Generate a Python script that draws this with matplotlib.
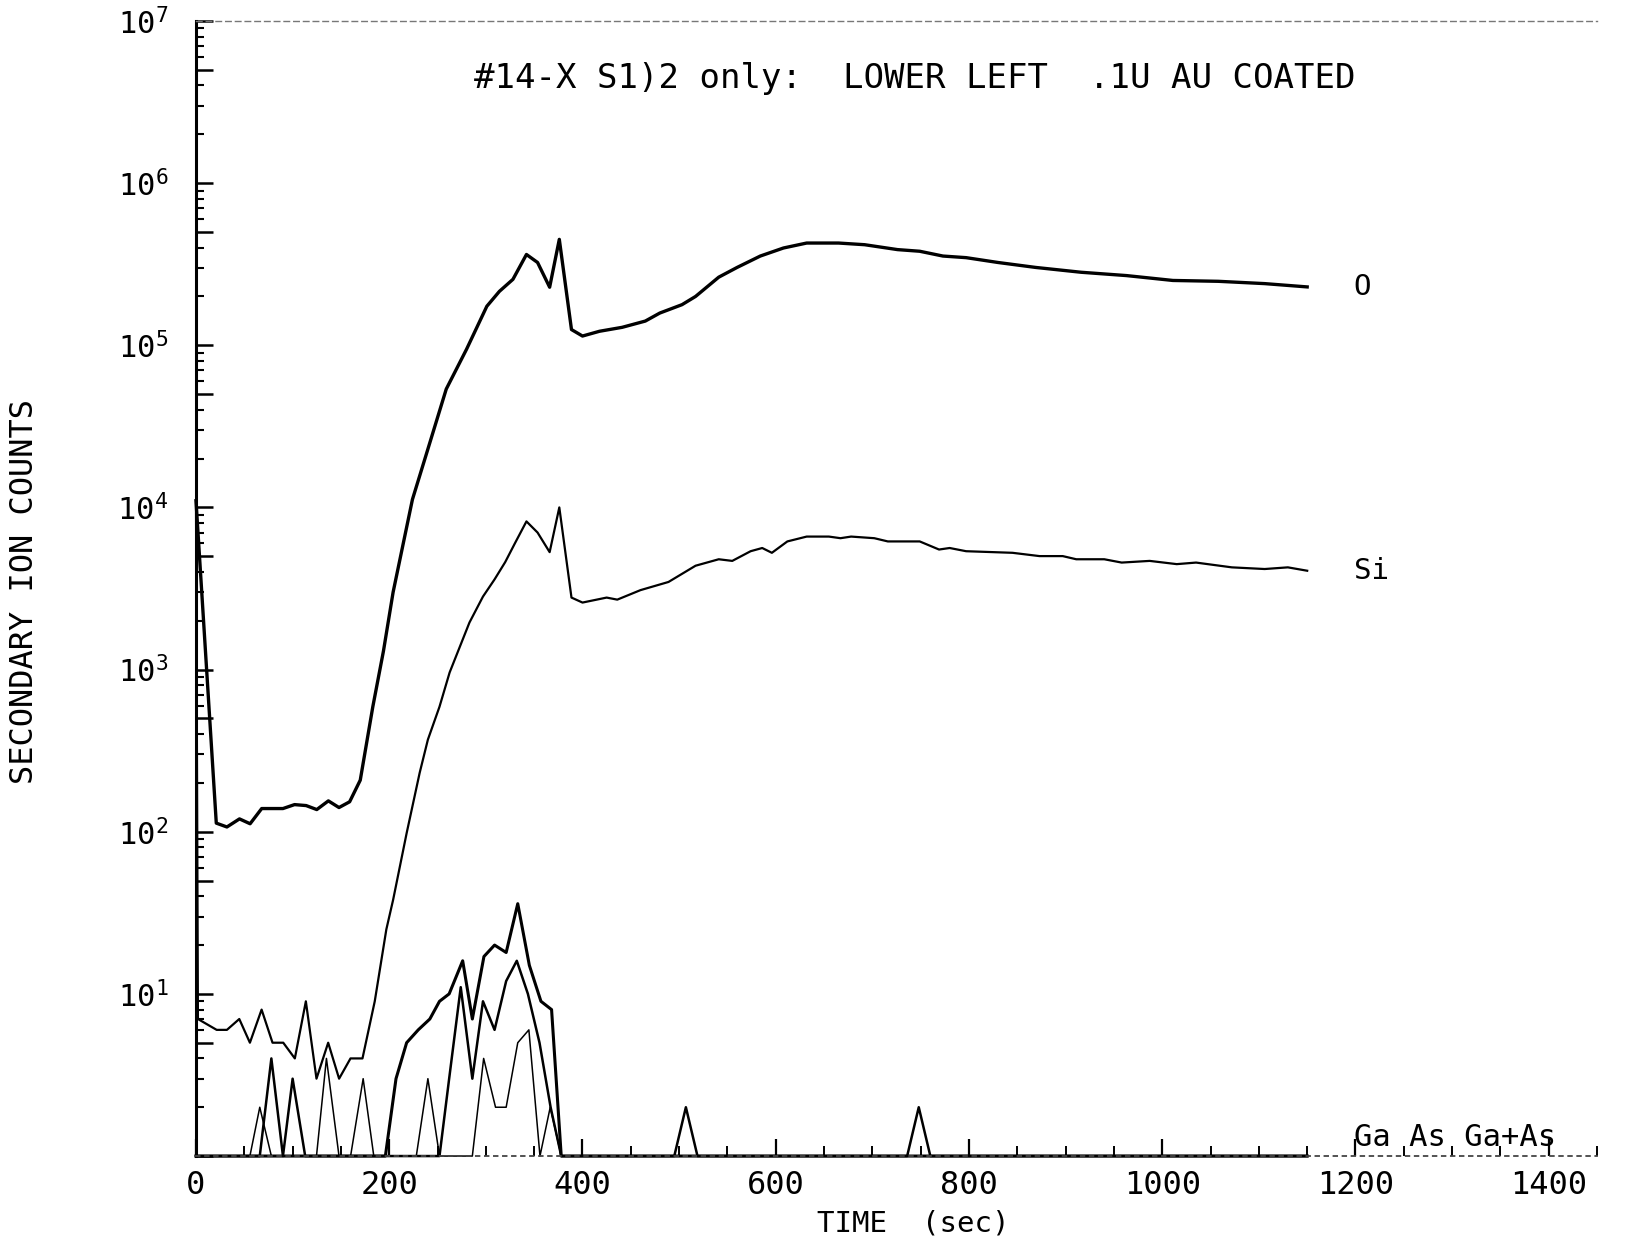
import matplotlib
matplotlib.use("Agg")
import matplotlib.pyplot as plt
from matplotlib.ticker import LogLocator, FuncFormatter, MultipleLocator, NullFormatter
import numpy as np

plt.rcParams['font.family'] = ['DejaVu Sans Mono']
plt.rcParams['mathtext.fontset'] = 'custom'
plt.rcParams['mathtext.rm'] = 'DejaVu Sans Mono'
plt.rcParams['mathtext.it'] = 'DejaVu Sans Mono'
plt.rcParams['mathtext.bf'] = 'DejaVu Sans Mono'

title = "#14-X S1)2 only:  LOWER LEFT  .1U AU COATED"
xlabel = "TIME  (sec)"
ylabel = "SECONDARY ION COUNTS"

# O signal
o_t = [0, 21, 32, 45, 56, 68, 79, 90, 102, 114, 125, 137, 148, 159, 170, 183, 194, 204, 214, 224,
       239, 259, 280, 301, 314, 328, 342, 353.5, 366, 376, 388.6, 400, 417.6, 441, 465, 480, 503,
       517, 541, 560, 584, 608, 632, 665, 692, 726, 749, 773, 797, 830, 869, 916, 963, 1011, 1058,
       1106, 1150]
o_v = [11000, 113, 107, 120, 112, 139, 139, 139, 147, 145, 137, 155, 141, 153, 208, 590, 1300, 3000,
       5800, 11200, 21900, 53700, 94500, 174000, 215000, 255000, 363000, 324000, 228000, 450000,
       125000, 114000, 122000, 129000, 141000, 158000, 178000, 200000, 263000, 302000, 355000,
       398000, 427000, 427000, 417000, 389000, 380000, 355000, 347000, 324000, 302000, 282000,
       269000, 251000, 248000, 240000, 229000]

# Si signal
si_t = [0, 2, 21.4, 32, 44.8, 55.8, 67.9, 79.2, 90.3, 102.3, 113.7, 124.7, 136.8, 148.1, 159.9,
        172.3, 185, 197, 204, 218, 231.5, 240, 252, 262.5, 283, 297, 309, 320, 330, 342, 353.5, 366,
        376, 388.6, 400, 425, 436, 460, 489, 517, 541, 555, 574, 586, 596, 612, 632, 655, 667, 678,
        702, 716, 749, 769, 780, 797, 845, 873, 897, 911, 940, 958, 987, 1015, 1035, 1072, 1106,
        1130, 1150]
si_v = [11000, 7, 6, 6, 7, 5, 8, 5, 5, 4, 9, 3, 5, 3, 4, 4, 9, 25, 38, 98, 231, 370, 590, 960, 1950,
        2820, 3600, 4600, 6000, 8200, 7000, 5300, 10000, 2780, 2590, 2780, 2700, 3090, 3470, 4370,
        4790, 4680, 5370, 5620, 5250, 6170, 6610, 6610, 6460, 6610, 6460, 6170, 6170, 5500, 5620,
        5370, 5250, 5010, 5010, 4790, 4790, 4570, 4680, 4470, 4570, 4270, 4170, 4270, 4070]

# Ga signal (zero counts shown on the bottom axis as 1)
ga_t = [0, 66, 78, 90, 100, 113, 252, 262, 274, 286, 297, 309, 321, 332, 343.5, 355.5, 367, 378,
        495, 507, 519, 736, 748, 760, 1150]
ga_v = [1, 1, 4, 1, 3, 1, 1, 3, 11, 3, 9, 6, 12, 16, 10, 5, 2, 1, 1, 2, 1, 1, 2, 1, 1]

# As signal
as_t = [0, 55.8, 66, 78, 124.7, 135, 148, 160, 173, 184, 228, 240, 252, 264, 286, 297.7, 310, 321,
        333, 344.5, 356, 366.6, 378, 1150]
as_v = [1, 1, 2, 1, 1, 4, 1, 1, 3, 1, 1, 3, 1, 1, 1, 4, 2, 2, 5, 6, 1, 2, 1, 1]

# Ga+As signal
gaas_t = [0, 196, 207, 218, 230, 242, 252, 262, 276, 286, 298, 309, 321, 333, 345, 357, 368, 378, 1150]
gaas_v = [1, 1, 3, 5, 6, 7, 9, 10, 16, 7, 17, 20, 18, 36, 15, 9, 8, 1, 1]

fig = plt.figure(figsize=(16.36, 12.40), dpi=100)
ax = fig.add_axes([0.1198, 0.0677, 0.8564, 0.9154])
ax.set_yscale('log')
ax.set_xlim(0, 1450)
ax.set_ylim(1, 1e7)

ax.plot(o_t, o_v, color='black', lw=2.4, clip_on=False)
ax.plot(si_t, si_v, color='black', lw=1.6, clip_on=False)
ax.plot(ga_t, ga_v, color='black', lw=1.8, clip_on=False)
ax.plot(as_t, as_v, color='black', lw=1.1, clip_on=False)
ax.plot(gaas_t, gaas_v, color='black', lw=2.2, clip_on=False)

# curve labels
ax.text(1198, o_v[-1], "O", fontsize=21, va='center', ha='left')
ax.text(1198, si_v[-1], "Si", fontsize=21, va='center', ha='left')
ax.text(1198, 1.06, "Ga As Ga+As", fontsize=22, va='bottom', ha='left')

ax.text(0.513, 0.9496, title, transform=ax.transAxes, fontsize=24.5, ha='center', va='center')

# axes styling
ax.spines['right'].set_visible(False)
ax.spines['top'].set_linestyle((0, (4, 3)))
ax.spines['top'].set_color('#777777')
ax.spines['top'].set_linewidth(1.0)
ax.spines['bottom'].set_linestyle((0, (2, 3)))
ax.spines['bottom'].set_color('#444444')
ax.spines['bottom'].set_linewidth(1.3)
ax.spines['left'].set_linewidth(2.2)

ax.yaxis.set_major_locator(LogLocator(base=10, subs=(1.0, 5.0), numticks=20))
ax.yaxis.set_minor_locator(LogLocator(base=10, subs=(2, 3, 4, 6, 7, 8, 9), numticks=20))

def yfmt(v, pos):
    e = np.log10(v)
    if abs(e - round(e)) < 1e-6 and round(e) >= 1:
        return r"$10^{%d}$" % int(round(e))
    return ""

ax.yaxis.set_major_formatter(FuncFormatter(yfmt))
ax.yaxis.set_minor_formatter(NullFormatter())
ax.xaxis.set_major_locator(MultipleLocator(200))
ax.xaxis.set_minor_locator(MultipleLocator(50))

ax.tick_params(axis='y', which='major', direction='in', length=12, width=1.8, labelsize=22, pad=20)
ax.tick_params(axis='y', which='minor', direction='in', length=6, width=1.5)
ax.tick_params(axis='x', which='major', direction='in', length=12, width=1.6, labelsize=23, pad=10)
ax.tick_params(axis='x', which='minor', direction='in', length=7, width=1.4)

fig.text(0.558, 0.013, xlabel, fontsize=21, ha='center', va='center')
fig.text(0.015, 0.523, ylabel, fontsize=23, ha='center', va='center', rotation=90)

fig.savefig("out.png", dpi=100, facecolor='white')
